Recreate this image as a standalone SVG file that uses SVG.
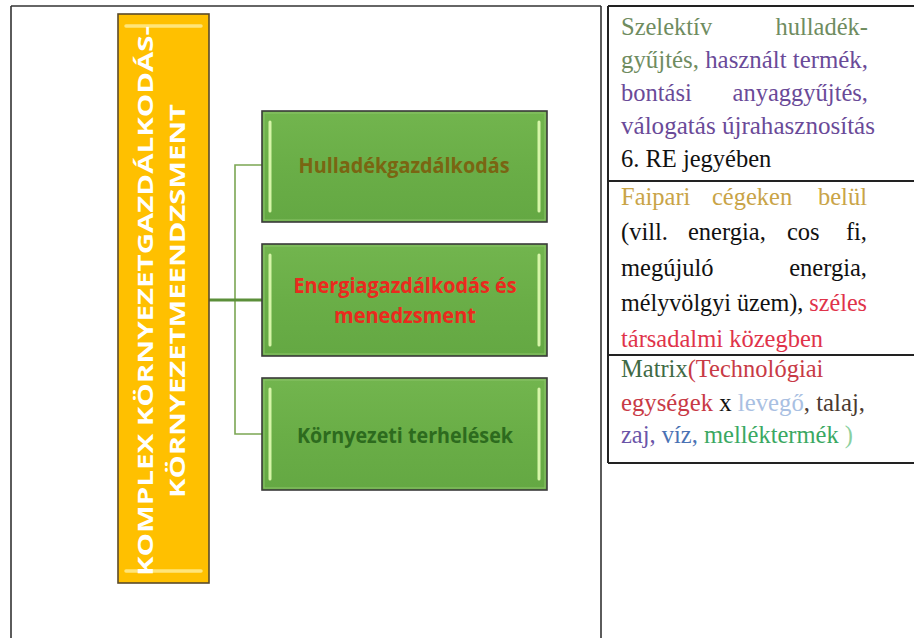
<svg xmlns="http://www.w3.org/2000/svg" width="914" height="638" viewBox="0 0 914 638">
<defs>
<linearGradient id="gGreen" x1="0" y1="0" x2="0" y2="1">
<stop offset="0" stop-color="#72b54e"/>
<stop offset="0.5" stop-color="#6aae47"/>
<stop offset="1" stop-color="#64a843"/>
</linearGradient>
<style>
.frame{fill:none;stroke:#333;stroke-width:1.6}
.gbox{fill:url(#gGreen);stroke:#3a3a3a;stroke-width:1.6}
.gin{fill:none;stroke:#8cc46a;stroke-width:1}
.bevel{stroke:#d6f5a8;stroke-width:3;stroke-linecap:round}
.obox{fill:#ffc000;stroke:#5a4a2a;stroke-width:1.6}
.ohl{stroke:#ffe57a;stroke-width:3.5;stroke-linecap:round}
.otxt{font-family:"Open Sans","DejaVu Sans",sans-serif;font-weight:700;font-size:22px;fill:#ffffff;text-anchor:middle}
.gtxt{font-family:"Open Sans","DejaVu Sans",sans-serif;font-weight:700;font-size:21px;text-anchor:middle}
.conn{fill:none;stroke:#7ba653;stroke-width:1.6}
.stem{fill:none;stroke:#5c8f3a;stroke-width:3}
.t{font-family:"Liberation Serif","DejaVu Serif","Noto Serif",serif;font-size:24.5px}
.tbl{fill:none;stroke:#222;stroke-width:2}
</style>
</defs>
<rect width="914" height="638" fill="#ffffff"/>

<g id="frame">
<line class="frame" x1="11" y1="6" x2="601" y2="6"/>
<line class="frame" x1="11" y1="6" x2="11" y2="638"/>
<line class="frame" x1="601" y1="6" x2="601" y2="638" stroke="#555"/>
</g>

<g id="connectors">
<path class="conn" d="M262,165 H235 V434 H262"/>
<path class="stem" d="M209,300 H262"/>
</g>

<g id="root">
<rect class="obox" x="118" y="14" width="91" height="569"/>
<line class="ohl" x1="126" y1="26" x2="201" y2="26"/>
<line class="ohl" x1="126" y1="571" x2="201" y2="571"/>
<text class="otxt" x="-301" y="153" transform="rotate(-90)" textLength="550" lengthAdjust="spacingAndGlyphs">KOMPLEX KÖRNYEZETGAZDÁLKODÁS-</text>
<text class="otxt" x="-301" y="185" transform="rotate(-90)" textLength="394" lengthAdjust="spacingAndGlyphs">KÖRNYEZETMEENDZSMENT</text>
</g>

<g id="node1">
<rect class="gbox" x="262" y="111" width="285" height="111"/>
<rect class="gin" x="264" y="113" width="281" height="107"/>
<line class="bevel" x1="270" y1="122" x2="270" y2="211"/>
<line class="bevel" x1="539" y1="122" x2="539" y2="211"/>
<text class="gtxt" x="404" y="173" fill="#7a6512" textLength="211" lengthAdjust="spacingAndGlyphs">Hulladékgazdálkodás</text>
</g>

<g id="node2">
<rect class="gbox" x="262" y="244" width="285" height="112"/>
<rect class="gin" x="264" y="246" width="281" height="108"/>
<line class="bevel" x1="270" y1="255" x2="270" y2="345"/>
<line class="bevel" x1="539" y1="255" x2="539" y2="345"/>
<text class="gtxt" x="405" y="293" fill="#ea2a1e" textLength="223" lengthAdjust="spacingAndGlyphs">Energiagazdálkodás és</text>
<text class="gtxt" x="405" y="323" fill="#ea2a1e" textLength="142" lengthAdjust="spacingAndGlyphs">menedzsment</text>
</g>

<g id="node3">
<rect class="gbox" x="262" y="378" width="285" height="112"/>
<rect class="gin" x="264" y="380" width="281" height="108"/>
<line class="bevel" x1="270" y1="389" x2="270" y2="479"/>
<line class="bevel" x1="539" y1="389" x2="539" y2="479"/>
<text class="gtxt" x="405" y="443" fill="#2d6b1e" textLength="216" lengthAdjust="spacingAndGlyphs">Környezeti terhelések</text>
</g>

<g id="table">
<line class="tbl" x1="608" y1="6" x2="914" y2="6"/>
<line class="tbl" x1="608" y1="6" x2="608" y2="463"/>
<line class="tbl" x1="608" y1="181" x2="914" y2="181"/>
<line class="tbl" x1="608" y1="355" x2="914" y2="355"/>
<line class="tbl" x1="608" y1="463" x2="914" y2="463"/>
</g>

<g id="row1" class="t">
<text x="621" y="35" fill="#6f8c5f">Szelektív</text>
<text x="868" y="35" fill="#6f8c5f" text-anchor="end">hulladék-</text>
<text x="621" y="68" textLength="247" lengthAdjust="spacingAndGlyphs"><tspan fill="#6f8c5f">gyűjtés,</tspan><tspan fill="#6a4a98"> használt termék,</tspan></text>
<text x="621" y="101" fill="#6a4a98">bontási</text>
<text x="868" y="101" fill="#6a4a98" text-anchor="end">anyaggyűjtés,</text>
<text x="621" y="134" fill="#6a4a98" textLength="254" lengthAdjust="spacingAndGlyphs">válogatás újrahasznosítás</text>
<text x="621" y="167" fill="#111">6. RE jegyében</text>
</g>

<g id="row2" class="t">
<text x="621" y="205" fill="#c9a447">Faipari</text>
<text x="712" y="205" fill="#c9a447">cégeken</text>
<text x="867" y="205" fill="#c9a447" text-anchor="end">belül</text>
<text x="621" y="240" fill="#111">(vill.</text>
<text x="688" y="240" fill="#111">energia,</text>
<text x="787" y="240" fill="#111">cos</text>
<text x="867" y="240" fill="#111" text-anchor="end">fi,</text>
<text x="621" y="276" fill="#111">megújuló</text>
<text x="867" y="276" fill="#111" text-anchor="end">energia,</text>
<text x="621" y="311" fill="#111" textLength="246" lengthAdjust="spacingAndGlyphs">mélyvölgyi üzem), <tspan fill="#e0334a">széles</tspan></text>
<text x="621" y="347" fill="#e0334a">társadalmi közegben</text>
</g>

<g id="row3" class="t">
<text x="621" y="377"><tspan fill="#3f6a45">Matrix</tspan><tspan fill="#c83a46">(Technológiai</tspan></text>
<text x="621" y="411" textLength="244" lengthAdjust="spacingAndGlyphs"><tspan fill="#c83a46">egységek</tspan><tspan fill="#111"> x </tspan><tspan fill="#a9c0e2">levegő</tspan><tspan fill="#4a3a30">, talaj,</tspan></text>
<text x="621" y="443"><tspan fill="#6a55a8">zaj, </tspan><tspan fill="#4a72b4">víz, </tspan><tspan fill="#3aa862">melléktermék </tspan><tspan fill="#8ad0a0">)</tspan></text>
</g>
</svg>
